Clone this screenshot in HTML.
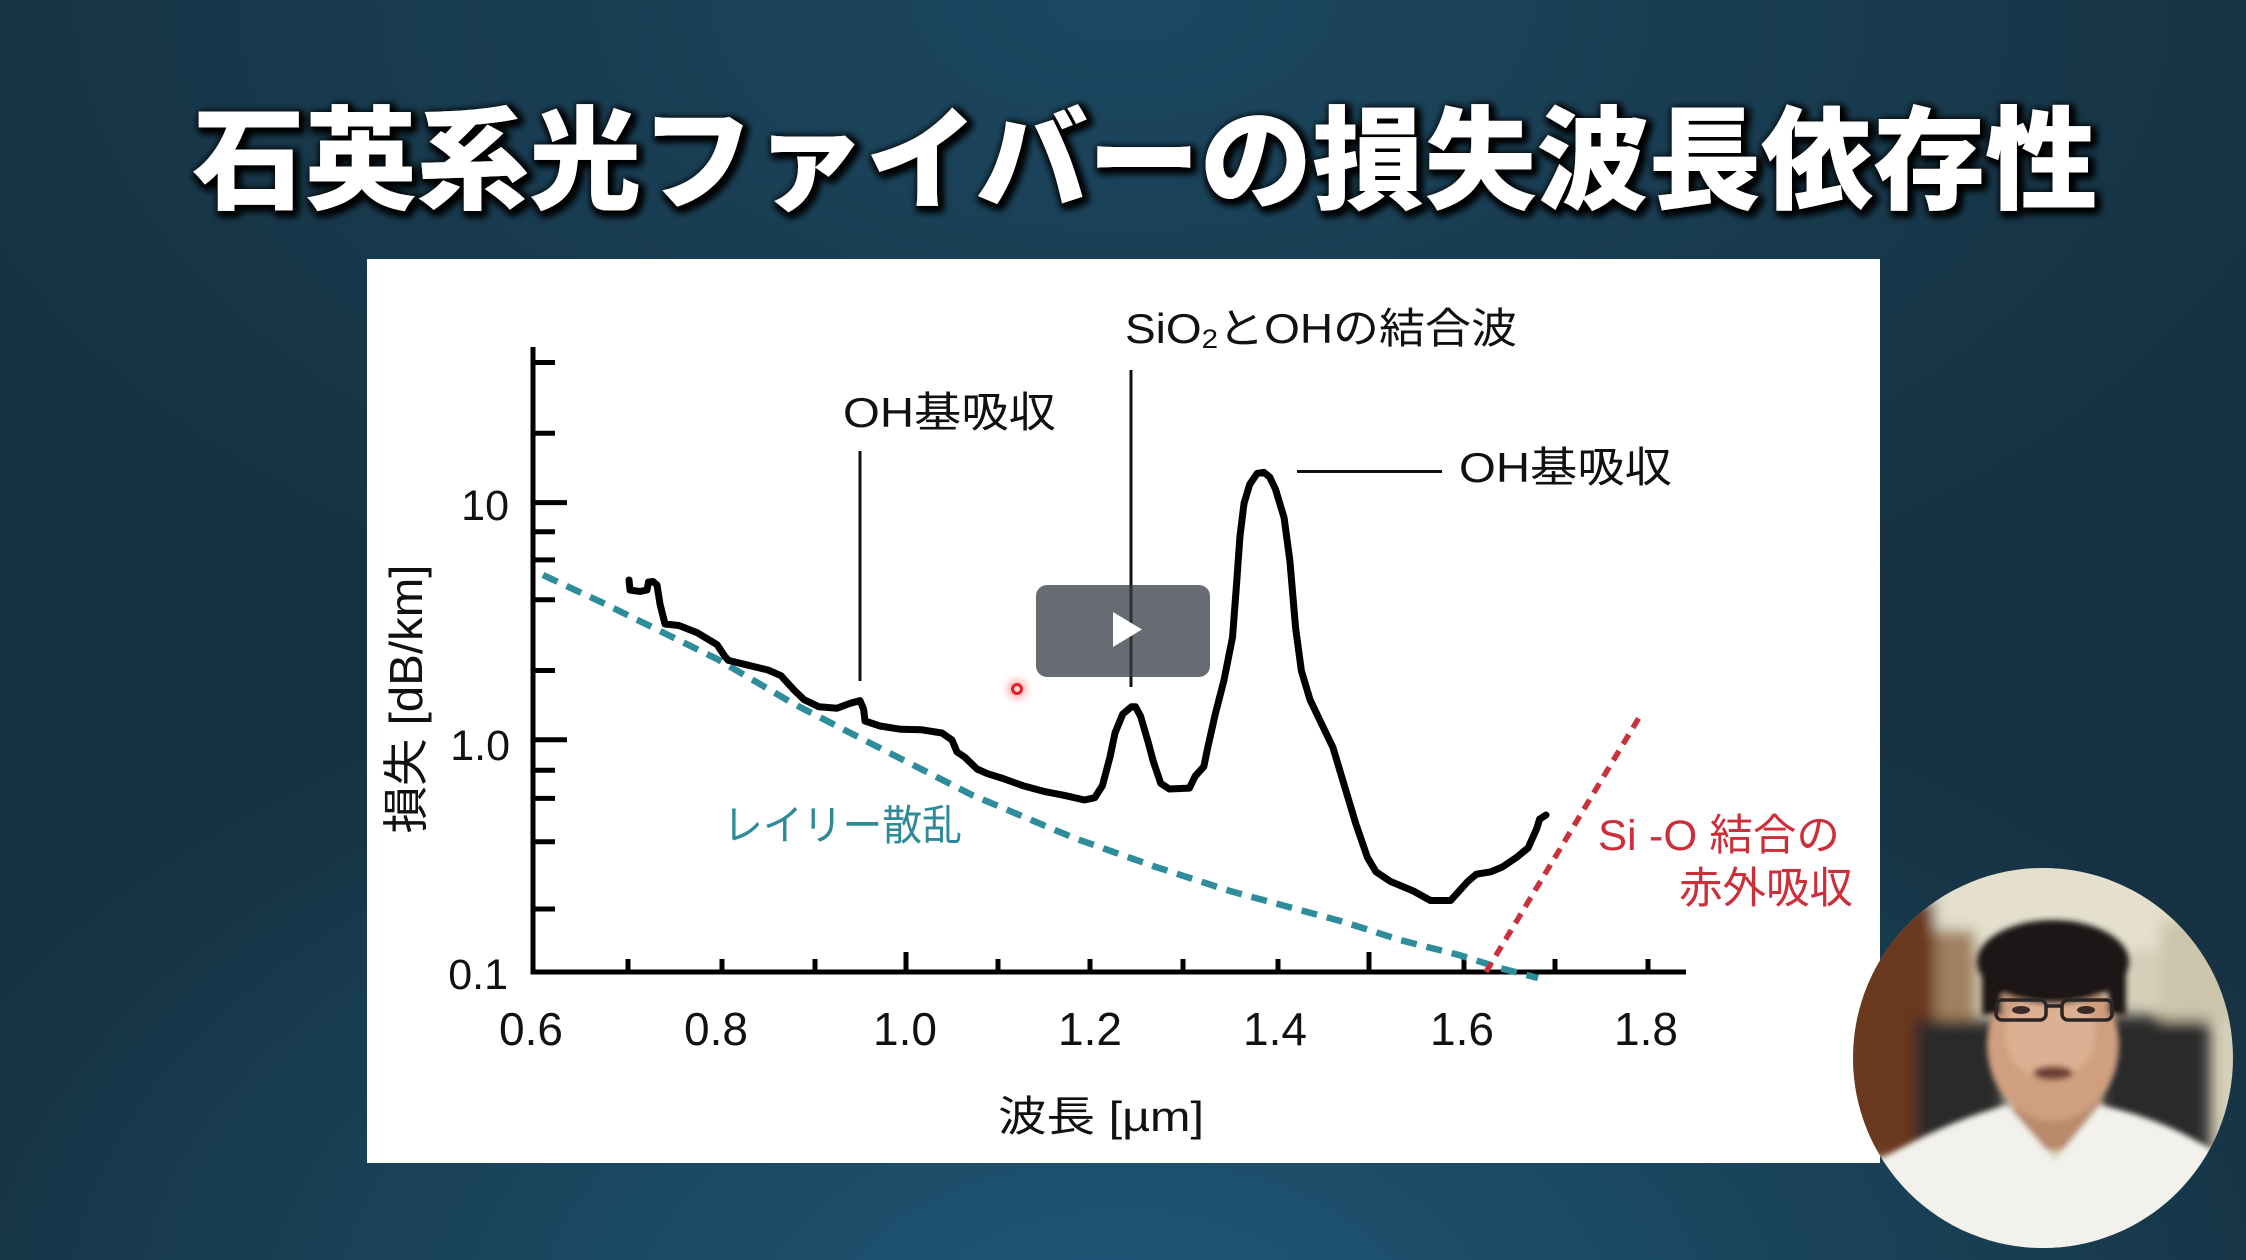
<!DOCTYPE html>
<html><head><meta charset="utf-8"><style>
html,body{margin:0;padding:0;}
body{width:2246px;height:1260px;overflow:hidden;background:#15303f;}
svg{display:block;}
</style></head><body>
<svg width="2246" height="1260" viewBox="0 0 2246 1260" xmlns="http://www.w3.org/2000/svg" font-family="'Liberation Sans','Noto Sans CJK JP',sans-serif">
<defs>
<radialGradient id="bgTop" cx="0.5" cy="0" r="0.6">
<stop offset="0" stop-color="#1c4862" stop-opacity="1"/>
<stop offset="1" stop-color="#1c4862" stop-opacity="0"/>
</radialGradient>
<radialGradient id="bgBot" cx="0.5" cy="1.05" r="0.6">
<stop offset="0" stop-color="#1f5878" stop-opacity="1"/>
<stop offset="1" stop-color="#1f5878" stop-opacity="0"/>
</radialGradient>
<filter id="ts" x="-5%" y="-40%" width="110%" height="180%">
<feMorphology in="SourceAlpha" operator="dilate" radius="2" result="d"/>
<feGaussianBlur in="d" stdDeviation="4" result="b"/>
<feOffset in="b" dx="3" dy="3" result="o"/>
<feFlood flood-color="#000" flood-opacity="1"/>
<feComposite in2="o" operator="in" result="s"/>
<feMerge><feMergeNode in="s"/><feMergeNode in="s"/><feMergeNode in="SourceGraphic"/></feMerge>
</filter>
<filter id="blur6" x="-20%" y="-20%" width="140%" height="140%"><feGaussianBlur stdDeviation="7"/></filter>
<filter id="blur3" x="-20%" y="-20%" width="140%" height="140%"><feGaussianBlur stdDeviation="3"/></filter>
<filter id="glow" x="-100%" y="-100%" width="300%" height="300%"><feGaussianBlur stdDeviation="4"/></filter>
<clipPath id="cam"><circle cx="2043" cy="1058" r="190"/></clipPath>
</defs>

<!-- background -->
<rect x="0" y="0" width="2246" height="1260" fill="#15303f"/>
<rect x="0" y="0" width="2246" height="1260" fill="url(#bgTop)"/>
<rect x="0" y="0" width="2246" height="1260" fill="url(#bgBot)"/>

<!-- title -->
<text x="1145" y="200" text-anchor="middle" font-size="112" font-weight="900" fill="#ffffff" filter="url(#ts)" textLength="1905" lengthAdjust="spacingAndGlyphs">石英系光ファイバーの損失波長依存性</text>

<!-- panel -->
<rect x="367" y="259" width="1513" height="904" fill="#ffffff"/>

<!-- axes -->
<g stroke="#000" stroke-width="5" fill="none" stroke-linecap="butt">
<line x1="533" y1="347" x2="533" y2="974.5"/>
<line x1="530.5" y1="972" x2="1686" y2="972"/>
<line x1="533" y1="502.6" x2="567" y2="502.6"/>
<line x1="533" y1="739.8" x2="567" y2="739.8"/>
<line x1="533" y1="362.5" x2="555" y2="362.5"/>
<line x1="533" y1="433.2" x2="555" y2="433.2"/>
<line x1="533" y1="531.7" x2="555" y2="531.7"/>
<line x1="533" y1="559.9" x2="555" y2="559.9"/>
<line x1="533" y1="599.8" x2="555" y2="599.8"/>
<line x1="533" y1="670.5" x2="555" y2="670.5"/>
<line x1="533" y1="770.2" x2="555" y2="770.2"/>
<line x1="533" y1="798.4" x2="555" y2="798.4"/>
<line x1="533" y1="841.8" x2="555" y2="841.8"/>
<line x1="533" y1="909" x2="555" y2="909"/>
<line x1="628" y1="959" x2="628" y2="972"/>
<line x1="722" y1="959" x2="722" y2="972"/>
<line x1="815" y1="959" x2="815" y2="972"/>
<line x1="906" y1="952" x2="906" y2="972"/>
<line x1="998" y1="959" x2="998" y2="972"/>
<line x1="1090" y1="959" x2="1090" y2="972"/>
<line x1="1183" y1="959" x2="1183" y2="972"/>
<line x1="1278" y1="959" x2="1278" y2="972"/>
<line x1="1369" y1="952" x2="1369" y2="972"/>
<line x1="1464" y1="959" x2="1464" y2="972"/>
<line x1="1555" y1="959" x2="1555" y2="972"/>
<line x1="1648" y1="959" x2="1648" y2="972"/>
</g>

<!-- y tick labels -->
<g font-size="43" fill="#111" text-anchor="end">
<text x="509" y="520">10</text>
<text x="510" y="760">1.0</text>
<text x="508" y="989">0.1</text>
</g>
<!-- x tick labels -->
<g font-size="46" fill="#111" text-anchor="middle">
<text x="531" y="1045">0.6</text>
<text x="716" y="1045">0.8</text>
<text x="905" y="1045">1.0</text>
<text x="1090" y="1045">1.2</text>
<text x="1275" y="1045">1.4</text>
<text x="1462" y="1045">1.6</text>
<text x="1646" y="1045">1.8</text>
</g>

<!-- axis titles -->
<text x="998" y="1131" font-size="42" fill="#111" textLength="206" lengthAdjust="spacingAndGlyphs">波長 [µm]</text>
<text transform="translate(422,699) rotate(-90)" text-anchor="middle" font-size="46" fill="#111" textLength="269" lengthAdjust="spacingAndGlyphs">損失 [dB/km]</text>

<!-- rayleigh dashed -->
<polyline fill="none" stroke="#2f8c9b" stroke-width="6.5" stroke-dasharray="16 10" points="543,575 603,603 717,659 794,704 870,743 972,795 1074,838 1156,867 1230,891 1344,922 1400,940 1459,955 1500,968 1538,978"/>

<!-- IR absorption red dashed -->
<line x1="1486" y1="972" x2="1640" y2="716" stroke="#c8323c" stroke-width="5.5" stroke-dasharray="11 8"/>

<!-- loss curve -->
<polyline fill="none" stroke="#000" stroke-width="7" stroke-linejoin="round" stroke-linecap="round" points="629,580 630,590 640,591.5 647,590 648.5,582 653,581.5 657,585 660,604 665,624 679,625.5 697,632.6 717,644.6 725,656.6 728.4,660.4 748,665.2 768,670 781,675.7 794,690 804,699.6 819,706.8 837,708.2 850,703.4 860,700.6 863.6,709.2 865,721 880,726 901,729.3 921,729.7 942,733 952,740 957,752 964.6,757 977,769 987.5,773.7 1003,778.5 1023,785.7 1044,791.4 1064,795.3 1084.5,800 1094.7,797.7 1102.4,785.7 1110,757 1115,733 1122.8,714 1131.4,706.8 1135.5,706.8 1140.6,716.3 1148.3,742.6 1153.4,761.8 1160.7,783.3 1169.3,789 1189.4,788.1 1195.2,776.1 1203.8,766.6 1207.8,747.4 1215.3,714 1223.9,680.5 1232.5,637.4 1236.5,584.8 1239.9,537 1244,503.5 1249.7,484.4 1257.2,473.4 1264,472.4 1269.8,477.2 1275.5,489.2 1284.1,517.8 1289.9,560.9 1295.6,627.9 1301.4,670.9 1310,699.6 1321.4,723.5 1332.9,747.4 1344.4,785.7 1355.9,824 1367.4,857.4 1376,871.8 1390.3,881.4 1413.3,891 1430.5,900.5 1450.6,900.5 1459.2,891 1467.8,881.4 1476.4,874.2 1490.8,871.8 1502.3,867 1516.6,857.4 1528.1,847.9 1536.7,828.7 1539.6,819.2 1546,815"/>

<!-- annotation lines -->
<g stroke="#111" stroke-width="3">
<line x1="860" y1="451" x2="860" y2="681"/>
<line x1="1131" y1="370" x2="1131" y2="687"/>
<line x1="1297" y1="471.5" x2="1442" y2="471.5"/>
</g>

<!-- annotation labels -->
<g font-size="42" fill="#111">
<text x="843" y="427" textLength="213" lengthAdjust="spacingAndGlyphs">OH基吸収</text>
<text x="1125" y="343" textLength="392" lengthAdjust="spacingAndGlyphs">SiO<tspan font-size="27" dy="5">2</tspan><tspan dy="-5">とOHの結合波</tspan></text>
<text x="1459" y="482" textLength="213" lengthAdjust="spacingAndGlyphs">OH基吸収</text>
</g>
<text x="723" y="840" font-size="42" fill="#2e8a99" textLength="239" lengthAdjust="spacingAndGlyphs">レイリー散乱</text>
<g font-size="43" fill="#cc2f3a">
<text x="1598" y="850" textLength="242" lengthAdjust="spacingAndGlyphs">Si -O 結合の</text>
<text x="1679" y="903" textLength="174" lengthAdjust="spacingAndGlyphs">赤外吸収</text>
</g>

<!-- play button overlay -->
<rect x="1036" y="585" width="174" height="92" rx="11" ry="11" fill="rgb(53,58,68)" fill-opacity="0.753"/>
<polygon points="1113,612 1113,647 1142,629.5" fill="#ffffff"/>

<!-- red pointer dot -->
<circle cx="1017" cy="689" r="10" fill="#ff3030" opacity="0.35" filter="url(#glow)"/>
<circle cx="1017" cy="689" r="4.5" fill="#ffd0d0" stroke="#e0202a" stroke-width="3"/>

<!-- webcam -->
<g clip-path="url(#cam)">
<rect x="1840" y="860" width="410" height="400" fill="#d6cfb9"/>
<g filter="url(#blur6)">
<rect x="1840" y="860" width="410" height="90" fill="#e4e0cd"/>
<rect x="1840" y="900" width="95" height="260" fill="#6a381e"/>
<rect x="1935" y="930" width="40" height="220" fill="#a0805f"/>
<rect x="1915" y="1020" width="90" height="130" fill="#2c2a2a"/>
<rect x="2100" y="1015" width="110" height="140" fill="#2a2929"/>
<rect x="2160" y="920" width="90" height="100" fill="#cdc5ab"/>
</g>
<g filter="url(#blur3)">
<rect x="2013" y="1080" width="88" height="70" fill="#b98a6c"/>
<ellipse cx="2053" cy="1045" rx="66" ry="76" fill="#cf9f80"/>
<ellipse cx="2050" cy="1035" rx="45" ry="45" fill="#dcb093"/>
<ellipse cx="2053" cy="962" rx="76" ry="42" fill="#1b1715"/>
<rect x="1982" y="960" width="20" height="55" fill="#1b1715"/>
<rect x="2108" y="960" width="18" height="55" fill="#1b1715"/>
<ellipse cx="2053" cy="1073" rx="20" ry="7" fill="#6e3c30"/>
<path d="M1850,1170 L1883,1158 Q1950,1120 2007,1105 L2055,1160 L2100,1105 Q2160,1118 2207,1147 L2240,1170 L2240,1260 L1850,1260 Z" fill="#f2f1ec"/>
</g>
<g fill="none" stroke="#2a2626" stroke-width="3.5">
<rect x="1996" y="1000" width="50" height="20" rx="6"/>
<rect x="2062" y="1000" width="50" height="20" rx="6"/>
<line x1="2046" y1="1006" x2="2062" y2="1006"/>
</g>
<ellipse cx="2021" cy="1010" rx="9" ry="4" fill="#3a2a28"/>
<ellipse cx="2086" cy="1010" rx="9" ry="4" fill="#3a2a28"/>
</g>
</svg>
</body></html>
